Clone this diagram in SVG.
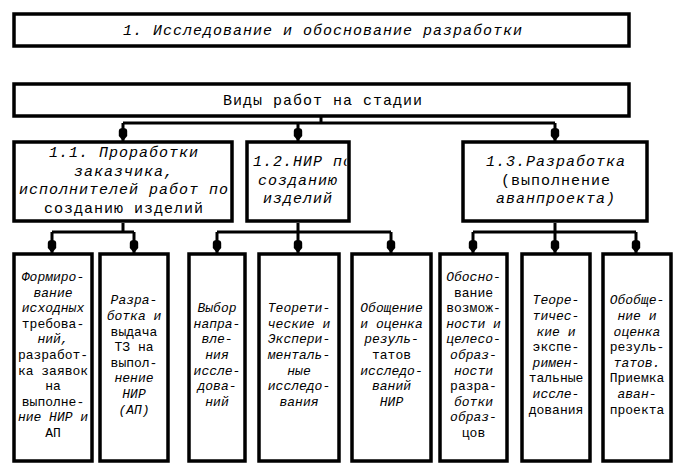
<svg xmlns="http://www.w3.org/2000/svg" width="683" height="473" viewBox="0 0 683 473">
<style>
rect.b{fill:#fff;stroke:#000;stroke-width:3.5}
.c path{fill:none;stroke:#000;stroke-width:3;marker-end:url(#ah)}
.c path.n{marker-end:none}
text{font-family:"Liberation Mono","Courier New",monospace;fill:#000;text-anchor:middle}
text.t{font-size:15px;letter-spacing:1px}
text.s{font-size:13px}
.i{font-style:italic}
</style>
<defs>
<marker id="ah" markerUnits="userSpaceOnUse" viewBox="-14 -5 15 10" refX="0" refY="0" markerWidth="15" markerHeight="10" orient="auto">
<path d="M0,0 L-5,-4.2 L-10,-4.2 Q-13,-4.2 -13,0 Q-13,4.2 -10,4.2 L-5,4.2 Z" fill="#000"/>
</marker>
<clipPath id="c12"><rect x="247" y="142" width="99.5" height="79"/></clipPath>
</defs>

<g id="connectors" class="c">
<path class="n" d="M321,117 V123"/>
<path class="n" d="M123,123 H555"/>
<path d="M123,123 V141"/>
<path d="M298,123 V141"/>
<path d="M555,123 V141"/>
<path class="n" d="M123,223 V232 M52,232 H134"/>
<path d="M52,232 V253"/>
<path d="M134,232 V253"/>
<path class="n" d="M298,223 V232 M217,232 H391"/>
<path d="M217,232 V253"/>
<path d="M298,232 V253"/>
<path d="M391,232 V253"/>
<path class="n" d="M555,223 V232 M473,232 H636"/>
<path d="M473,232 V253"/>
<path d="M555,232 V253"/>
<path d="M636,232 V253"/>
</g>

<g id="n1">
<rect class="b" x="14" y="14" width="615" height="32"/>
<text class="t i" x="323" y="35">1. Исследование и обоснование разработки</text>
</g>

<g id="n2">
<rect class="b" x="14" y="84" width="615" height="32"/>
<text class="t" x="323" y="105">Виды работ на стадии</text>
</g>

<g id="n11">
<rect class="b" x="14" y="142" width="218" height="79"/>
<text class="t" x="124" y="157"><tspan class="i" x="124">1.1. Проработки</tspan><tspan class="i" x="124" dy="18.5">заказчика,</tspan><tspan class="i" x="124" dy="18.5">исполнителей работ по</tspan><tspan x="124" dy="18.5">созданию изделий</tspan></text>
</g>

<g id="n12">
<rect class="b" x="247" y="142" width="102" height="79"/>
<text class="t i" x="303" y="166" clip-path="url(#c12)"><tspan x="303">1.2.НИР по</tspan><tspan x="298" dy="18.5">созданию</tspan><tspan x="298" dy="18.5">изделий</tspan></text>
</g>

<g id="n13">
<rect class="b" x="463" y="142" width="184" height="79"/>
<text class="t" x="556" y="166"><tspan class="i" x="556">1.3.Разработка</tspan><tspan x="556" dy="18.5">(выполнение</tspan><tspan class="i" x="556" dy="18.5">аванпроекта)</tspan></text>
</g>

<g id="c1">
<rect class="b" x="14" y="254" width="78" height="207"/>
<text class="s" y="281"><tspan class="i" x="53">Формиро-</tspan><tspan class="i" x="53" dy="15.6">вание</tspan><tspan class="i" x="53" dy="15.6">исходных</tspan><tspan x="53" dy="15.6">требова-</tspan><tspan class="i" x="53" dy="15.6">ний,</tspan><tspan x="53" dy="15.6">разработ-</tspan><tspan x="53" dy="15.6">ка заявок</tspan><tspan x="53" dy="15.6">на</tspan><tspan x="53" dy="15.6">выполне-</tspan><tspan class="i" x="53" dy="15.6">ние НИР и</tspan><tspan x="53" dy="15.6">АП</tspan></text>
</g>

<g id="c2">
<rect class="b" x="100" y="254" width="68" height="207"/>
<text class="s" y="304.4"><tspan class="i" x="134">Разра-</tspan><tspan class="i" x="134" dy="15.6">ботка и</tspan><tspan x="134" dy="15.6">выдача</tspan><tspan x="134" dy="15.6">ТЗ на</tspan><tspan x="134" dy="15.6">выпол-</tspan><tspan class="i" x="134" dy="15.6">нение</tspan><tspan class="i" x="134" dy="15.6">НИР</tspan><tspan class="i" x="134" dy="15.6">(АП)</tspan></text>
</g>

<g id="c3">
<rect class="b" x="189" y="254" width="56" height="207"/>
<text class="s i" y="312.2"><tspan x="217">Выбор</tspan><tspan x="217" dy="15.6">напра-</tspan><tspan x="217" dy="15.6">вле-</tspan><tspan x="217" dy="15.6">ния</tspan><tspan x="217" dy="15.6">иссле-</tspan><tspan x="217" dy="15.6">дова-</tspan><tspan x="217" dy="15.6">ний</tspan></text>
</g>

<g id="c4">
<rect class="b" x="259" y="254" width="80" height="207"/>
<text class="s i" y="312.2"><tspan x="299">Теорети-</tspan><tspan x="299" dy="15.6">ческие и</tspan><tspan x="299" dy="15.6">Экспери-</tspan><tspan x="299" dy="15.6">менталь-</tspan><tspan x="299" dy="15.6">ные</tspan><tspan x="299" dy="15.6">исследо-</tspan><tspan x="299" dy="15.6">вания</tspan></text>
</g>

<g id="c5">
<rect class="b" x="352" y="254" width="79" height="207"/>
<text class="s i" y="312.2"><tspan x="391.5">Обощение</tspan><tspan x="391.5" dy="15.6">и оценка</tspan><tspan x="391.5" dy="15.6">резуль-</tspan><tspan x="391.5" dy="15.6" style="font-style:normal">татов</tspan><tspan x="391.5" dy="15.6">исследо-</tspan><tspan x="391.5" dy="15.6">ваний</tspan><tspan x="391.5" dy="15.6">НИР</tspan></text>
</g>

<g id="c6">
<rect class="b" x="440" y="254" width="67" height="207"/>
<text class="s" y="281"><tspan class="i" x="473.5">Обосно-</tspan><tspan x="473.5" dy="15.6">вание</tspan><tspan x="473.5" dy="15.6">возмож-</tspan><tspan class="i" x="473.5" dy="15.6">ности и</tspan><tspan class="i" x="473.5" dy="15.6">целесо-</tspan><tspan class="i" x="473.5" dy="15.6">образ-</tspan><tspan class="i" x="473.5" dy="15.6">ности</tspan><tspan x="473.5" dy="15.6">разра-</tspan><tspan class="i" x="473.5" dy="15.6">ботки</tspan><tspan class="i" x="473.5" dy="15.6">образ-</tspan><tspan x="473.5" dy="15.6">цов</tspan></text>
</g>

<g id="c7">
<rect class="b" x="522" y="254" width="68" height="207"/>
<text class="s" y="304.4"><tspan class="i" x="556">Теоре-</tspan><tspan class="i" x="556" dy="15.6">тичес-</tspan><tspan class="i" x="556" dy="15.6">кие и</tspan><tspan x="556" dy="15.6">экспе-</tspan><tspan class="i" x="556" dy="15.6">римен-</tspan><tspan x="556" dy="15.6">тальные</tspan><tspan class="i" x="556" dy="15.6">иссле-</tspan><tspan x="556" dy="15.6">дования</tspan></text>
</g>

<g id="c8">
<rect class="b" x="603" y="254" width="68" height="207"/>
<text class="s" y="304.4"><tspan class="i" x="637">Обобще-</tspan><tspan class="i" x="637" dy="15.6">ние и</tspan><tspan class="i" x="637" dy="15.6">оценка</tspan><tspan x="637" dy="15.6">резуль-</tspan><tspan class="i" x="637" dy="15.6">татов.</tspan><tspan x="637" dy="15.6">Приемка</tspan><tspan class="i" x="637" dy="15.6">аван-</tspan><tspan x="637" dy="15.6">проекта</tspan></text>
</g>
</svg>
